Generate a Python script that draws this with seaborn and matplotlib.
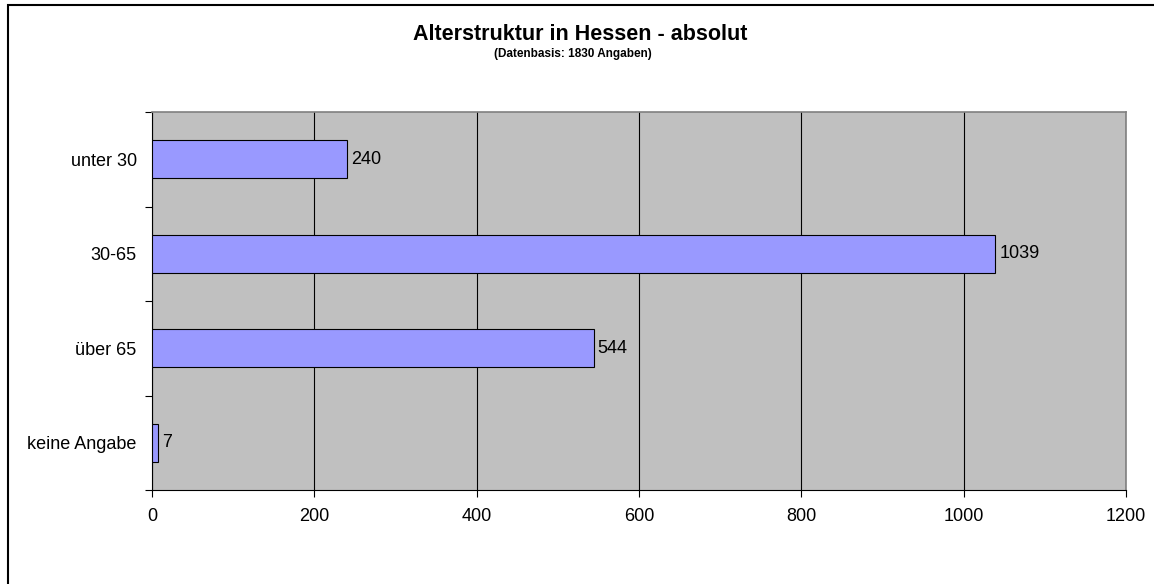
import matplotlib
matplotlib.use("Agg")
import matplotlib.pyplot as plt
import seaborn as sns
import pandas as pd
from matplotlib.patches import Rectangle

# Data
categories = ['unter 30', '30-65', 'über 65', 'keine Angabe']
counts = [240, 1039, 544, 7]
x_ticks = [0, 200, 400, 600, 800, 1000, 1200]

df = pd.DataFrame({'Alter': categories, 'Anzahl': counts})

sns.set_style("white")
plt.rcParams['font.family'] = ['Liberation Sans', 'DejaVu Sans']
plt.rcParams['text.color'] = 'black'
plt.rcParams['xtick.color'] = 'black'
plt.rcParams['ytick.color'] = 'black'

W, H = 1154, 584
fig = plt.figure(figsize=(W / 100, H / 100), dpi=100)

# Plot area placed in pixel coordinates
left, right, top, bottom = 152, 1126, 112, 490
ax = fig.add_axes([left / W, 1 - bottom / H, (right - left) / W, (bottom - top) / H])
ax.set_facecolor('#C0C0C0')

sns.barplot(data=df, y='Alter', x='Anzahl', orient='h', color='#9999FF',
            edgecolor='black', linewidth=0.8, width=0.4, saturation=1, ax=ax, zorder=3)

ax.set_xlim(0, 1200)
ax.set_ylim(3.5, -0.5)
ax.set_xticks(x_ticks)
ax.set_xticklabels([str(t) for t in x_ticks], fontsize=13)
ax.grid(axis='x', color='black', linewidth=0.8, zorder=1)
ax.set_axisbelow(True)

# Category ticks sit on the band boundaries, labels in the middle
ax.set_yticks(range(len(categories)))
ax.set_yticklabels(categories, fontsize=13)
ax.tick_params(axis='y', which='major', left=True, length=0, pad=11)
ax.set_yticks([i - 0.5 for i in range(len(categories) + 1)], minor=True)
ax.tick_params(axis='y', which='minor', left=True, length=5, width=0.8, direction='out')
ax.tick_params(axis='x', bottom=True, length=5, width=0.8, direction='out', pad=8)
ax.set_xlabel('')
ax.set_ylabel('')

for s in ['left', 'bottom']:
    ax.spines[s].set_color('black')
    ax.spines[s].set_linewidth(0.8)
for s in ['top', 'right']:
    ax.spines[s].set_color('#808080')
    ax.spines[s].set_linewidth(1.2)

for i, v in enumerate(counts):
    ax.text(v + 5, i, str(v), va='center', ha='left', fontsize=13, zorder=4)

fig.text(580 / W, 1 - 35 / H, 'Alterstruktur in Hessen - absolut',
         ha='center', va='center', fontsize=15.5, fontweight='bold')
fig.text(573 / W, 1 - 54 / H, '(Datenbasis: 1830 Angaben)',
         ha='center', va='center', fontsize=8.5, fontweight='bold')

# Outer chart frame
fig.patches.append(Rectangle((8 / W, -0.05), 1.1, 1 - 5 / H + 0.05, transform=fig.transFigure,
                             fill=False, edgecolor='black', linewidth=1.5))

fig.savefig('out.png', dpi=100)
